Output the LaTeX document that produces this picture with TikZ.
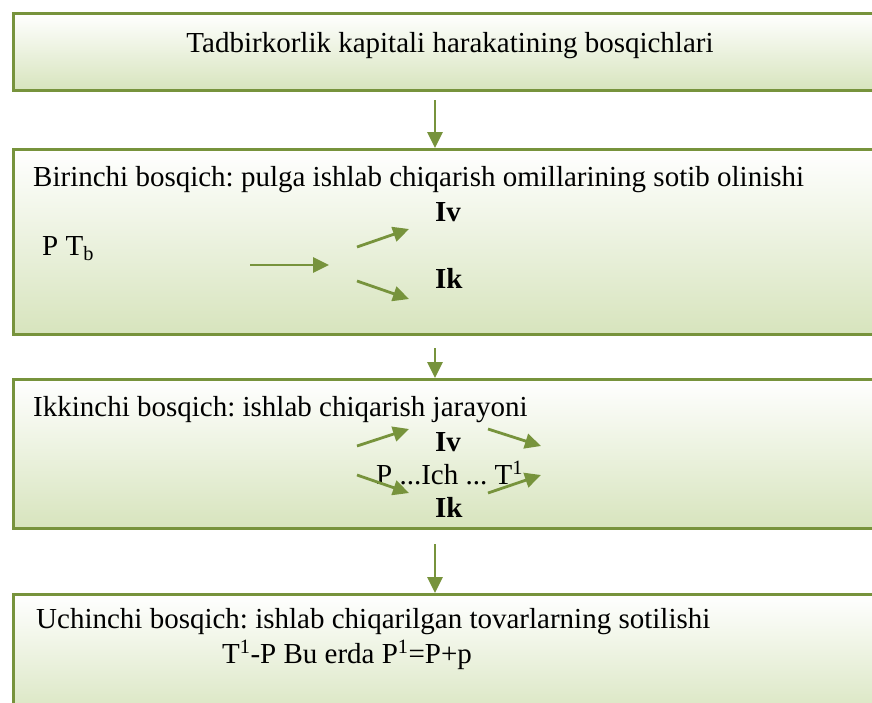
\documentclass[tikz,border=0pt]{standalone}
\usepackage{fontspec}
\setmainfont{Liberation Serif}
\usetikzlibrary{arrows.meta}
\definecolor{oliveedge}{HTML}{77933C}
\definecolor{olivefill}{HTML}{D7E4BD}
\frenchspacing

\begin{document}
\begin{tikzpicture}[
            x=1pt,y=-1pt,
            every node/.append style={black,inner sep=0pt,font=\fontsize{29}{34}\selectfont},
            stagebox/.style={draw=oliveedge,line width=3pt,top color=white,bottom color=olivefill,
                minimum width=888pt,anchor=north west},
            flow/.style={oliveedge,line width=2.8pt,-{Triangle[length=16pt,width=15pt]}},
            label/.style={anchor=base west}
        ]
            \useasboundingbox (0,0) rectangle (872,702);
            \clip (0,0) rectangle (872,702);

            % stage boxes
            \node[stagebox,minimum height=77pt]  (stage1) at (12,12)  {};
            \node[stagebox,minimum height=185pt] (stage2) at (12,148) {};
            \node[stagebox,minimum height=149pt] (stage3) at (12,378) {};
            \node[stagebox,minimum height=130pt] (stage4) at (12,593) {};

            \coordinate (spine) at (435,0);
            \draw[flow,shorten <=8pt]  (stage1.south -| spine) -- (stage2.north -| spine);
            \draw[flow,shorten <=12pt] (stage2.south -| spine) -- (stage3.north -| spine);
            \draw[flow,shorten <=14pt] (stage3.south -| spine) -- (stage4.north -| spine);

            % texts
            \node[anchor=base] (title) at (450,52) {Tadbirkorlik kapitali harakatining bosqichlari};

            \node[label] (first)  at (33,186) {Birinchi bosqich: pulga ishlab chiqarish omillarining sotib olinishi};
            \node[label] (ptb)    at (42,255) {P T\textsubscript{b}};
            \node[label] (iv1)    at (435,221) {\textbf{Iv}};
            \node[label] (ik1)    at (435,288) {\textbf{Ik}};

            \node[label] (second) at (33,416) {Ikkinchi bosqich: ishlab chiqarish jarayoni};
            \node[label] (iv2)    at (435,451) {\textbf{Iv}};
            \node[label] (pich)   at (376,484) {P ...Ich ... T\textsuperscript{1}};
            \node[label] (ik2)    at (435,517) {\textbf{Ik}};

            \node[label] (third)  at (36,628) {Uchinchi bosqich: ishlab chiqarilgan tovarlarning sotilishi};
            \node[label] (result) at (222,663) {T\textsuperscript{1}-P Bu erda P\textsuperscript{1}=P+p};

            % arrows of the first stage
            \coordinate (buy)   at (250,265);
            \coordinate (fork)  at (329,265);
            \coordinate (upA)   at (357,247);
            \coordinate (upB)   at (409,229);
            \coordinate (dnA)   at (357,281);
            \coordinate (dnB)   at (409,299);
            \draw[flow] (buy) -- (fork);
            \draw[flow] (upA) -- (upB);
            \draw[flow] (dnA) -- (dnB);

            % arrows of the second stage
            \coordinate (inA)  at (357,446);
            \coordinate (inB)  at (409,429);
            \coordinate (inC)  at (357,475);
            \coordinate (inD)  at (409,493);
            \coordinate (outA) at (488,429);
            \coordinate (outB) at (541,446);
            \coordinate (outC) at (488,493);
            \coordinate (outD) at (541,475);
            \draw[flow] (inA) -- (inB);
            \draw[flow] (inC) -- (inD);
            \draw[flow] (outA) -- (outB);
            \draw[flow] (outC) -- (outD);
        \end{tikzpicture}
\end{document}
